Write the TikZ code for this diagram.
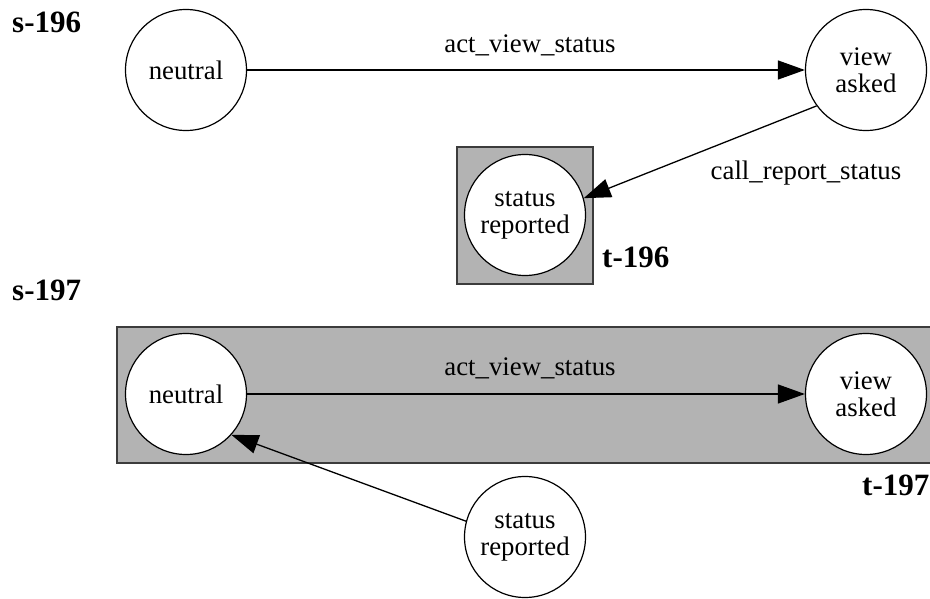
\documentclass[tikz,border=0pt]{standalone}
\usepackage{fontspec}
\setmainfont{Liberation Serif}
\usepackage{tikz}
\usetikzlibrary{arrows.meta,positioning}
\definecolor{clusterfill}{RGB}{179,179,179}
\definecolor{clusterline}{RGB}{60,60,60}

\begin{document}
\begin{tikzpicture}[x=1pt, y=-1pt,
    state/.style={circle, draw, line width=1.2pt, fill=white, minimum size=121pt, inner sep=0pt, align=center, font=\fontsize{26.8}{27}\selectfont},
    cluster/.style={draw=clusterline, fill=clusterfill, line width=1.6pt},
    edge/.style={line width=1.3pt, -{Triangle[length=27pt, width=19pt]}},
    elabel/.style={font=\fontsize{26.8}{27}\selectfont},
    tag/.style={font=\fontsize{31}{32}\bfseries, anchor=base west, inner sep=0pt}]
    \useasboundingbox (0,0) rectangle (930,599);
    % first pair: s-196 and t-196
    \node[tag] (s196) at (12,33) {s-196};
    \draw[cluster] (457,147) rectangle (593,284);
    \node[tag] (t196) at (602,267) {t-196};
    \node[state] (n1) at (186,70) {neutral};
    \node[state] (va1) at (866,70) {view\\asked};
    \node[state] (sr1) at (525,215) {status\\reported};
    \draw[edge] (n1) -- (va1);
    \node[elabel] (l1) at (530,45) {act\_view\_status};
    \draw[edge] (va1.216) -- (sr1.16);
    \node[elabel] (l2) at (806,173) {call\_report\_status};
    % second pair: s-197 and t-197
    \node[tag] (s197) at (12,300) {s-197};
    \draw[cluster] (117,327) rectangle (945,463);
    \node[tag] (t197) at (862,495) {t-197};
    \node[state] (n2) at (186,394) {neutral};
    \node[state] (va2) at (866,394) {view\\asked};
    \node[state] (sr2) at (525,537) {status\\reported};
    \draw[edge] (n2) -- (va2);
    \node[elabel] (l3) at (530,368) {act\_view\_status};
    \draw[edge] (sr2.165) -- (n2.-42);
\end{tikzpicture}
\end{document}
